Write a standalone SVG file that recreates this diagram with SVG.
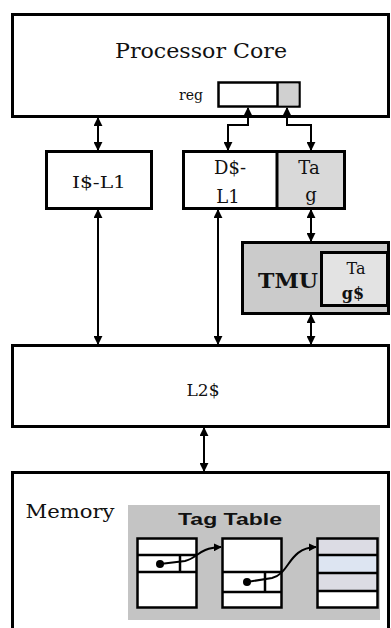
<svg xmlns="http://www.w3.org/2000/svg" width="391" height="628" viewBox="0 0 391 628">
<style>
.box{fill:#fff;stroke:#000;stroke-width:3}
.con{fill:none;stroke:#000;stroke-width:2;marker-start:url(#ah);marker-end:url(#ah)}
.srf{font-family:"DejaVu Serif","Liberation Serif",serif;fill:#111}
.row{fill:none;stroke:#000;stroke-width:2.5}
</style>
<defs>
<marker id="ah" markerUnits="userSpaceOnUse" markerWidth="9" markerHeight="9" viewBox="0 0 10 10" refX="9" refY="5" orient="auto-start-reverse">
<path d="M0,0 L10,5 L0,10 z" fill="#000"/>
</marker>
<marker id="ah2" markerUnits="userSpaceOnUse" markerWidth="8" markerHeight="8" viewBox="0 0 10 10" refX="9" refY="5" orient="auto">
<path d="M0,0 L10,5 L0,10 z" fill="#000"/>
</marker>
</defs>
<rect width="391" height="628" fill="#fff"/>

<g id="processor-core">
<rect class="box" x="12.5" y="14.5" width="376" height="102"/>
<text class="srf" x="201" y="58" font-size="20" text-anchor="middle" textLength="172" lengthAdjust="spacingAndGlyphs">Processor Core</text>
<text class="srf" x="191" y="100" font-size="14" text-anchor="middle" fill="#333">reg</text>
<rect x="218.5" y="82.5" width="81" height="24" fill="#fff" stroke="#000" stroke-width="2.5"/>
<rect x="277.5" y="83.5" width="21" height="22" fill="#d0d0d0"/>
<line x1="277.5" y1="82.5" x2="277.5" y2="106.5" stroke="#000" stroke-width="2.5"/>
</g>

<g id="i-l1">
<rect class="box" x="46.5" y="151.5" width="105" height="57"/>
<text class="srf" x="99" y="188" font-size="17" text-anchor="middle" textLength="54" lengthAdjust="spacingAndGlyphs">I$-L1</text>
</g>

<g id="d-l1">
<rect class="box" x="183.5" y="151.5" width="161" height="57"/>
<rect x="278" y="153" width="65" height="54" fill="#d9d9d9"/>
<line x1="277" y1="151.5" x2="277" y2="208.5" stroke="#000" stroke-width="3"/>
<text class="srf" x="230" y="174" font-size="18" text-anchor="middle">D$-</text>
<text class="srf" x="228" y="203" font-size="18" text-anchor="middle">L1</text>
<text class="srf" x="309" y="174" font-size="18" text-anchor="middle">Ta</text>
<text class="srf" x="311" y="201" font-size="18" text-anchor="middle">g</text>
</g>

<g id="tmu">
<rect x="242.5" y="242.5" width="146" height="71" fill="#cbcbcb" stroke="#000" stroke-width="3"/>
<text class="srf" x="288" y="288" font-size="21" font-weight="bold" text-anchor="middle" textLength="60" lengthAdjust="spacingAndGlyphs">TMU</text>
<rect x="321.5" y="252.5" width="66" height="53" fill="#e3e3e3" stroke="#000" stroke-width="3"/>
<text class="srf" x="356" y="274" font-size="16" text-anchor="middle">Ta</text>
<text class="srf" x="353" y="299" font-size="16" font-weight="bold" text-anchor="middle">g$</text>
</g>

<g id="l2">
<rect class="box" x="12.5" y="345.5" width="376" height="81"/>
<text class="srf" x="203" y="396" font-size="16" text-anchor="middle" textLength="33" lengthAdjust="spacingAndGlyphs">L2$</text>
</g>

<g id="memory">
<rect class="box" x="12.5" y="472.5" width="376" height="170"/>
<text class="srf" x="70" y="518" font-size="18" text-anchor="middle" fill="#444" textLength="89" lengthAdjust="spacingAndGlyphs">Memory</text>
<g id="tag-table">
<rect x="128" y="505" width="252" height="115" fill="#c4c4c4"/>
<text x="230" y="525" font-family="Liberation Sans, Arial, sans-serif" font-size="17" font-weight="bold" text-anchor="middle" fill="#111" textLength="104" lengthAdjust="spacingAndGlyphs">Tag Table</text>
<g id="tbl1">
<rect x="137.5" y="538.5" width="59" height="69" class="row" style="fill:#fff"/>
<line class="row" x1="137.5" y1="555" x2="196.5" y2="555"/>
<line class="row" x1="137.5" y1="572" x2="196.5" y2="572"/>
<line class="row" x1="180" y1="555" x2="180" y2="572"/>
<circle cx="160" cy="564" r="4" fill="#000"/>
</g>
<g id="tbl2">
<rect x="222.5" y="538.5" width="59" height="69" class="row" style="fill:#fff"/>
<line class="row" x1="222.5" y1="572" x2="281.5" y2="572"/>
<line class="row" x1="222.5" y1="592" x2="281.5" y2="592"/>
<line class="row" x1="265" y1="572" x2="265" y2="592"/>
<circle cx="247" cy="582" r="4" fill="#000"/>
</g>
<g id="tbl3">
<rect x="317.5" y="538.5" width="60" height="69" fill="#fff"/>
<rect x="318" y="539" width="59" height="16" fill="#dcdce4"/>
<rect x="318" y="555" width="59" height="18" fill="#dde5f2"/>
<rect x="318" y="573" width="59" height="18" fill="#dcdce4"/>
<rect x="317.5" y="538.5" width="60" height="69" class="row"/>
<line class="row" x1="317.5" y1="555" x2="377.5" y2="555"/>
<line class="row" x1="317.5" y1="573" x2="377.5" y2="573"/>
<line class="row" x1="317.5" y1="591" x2="377.5" y2="591"/>
</g>
</g>
</g>

<g id="connectors">
<line class="con" x1="98" y1="118" x2="98" y2="150"/>
<path class="con" d="M248,108 V125 H228 V150"/>
<path class="con" d="M287,108 V125 H311 V150"/>
<line class="con" x1="98" y1="210" x2="98" y2="344"/>
<line class="con" x1="218" y1="210" x2="218" y2="344"/>
<line class="con" x1="311" y1="210" x2="311" y2="241"/>
<line class="con" x1="311" y1="315" x2="311" y2="344"/>
<line class="con" x1="204" y1="428" x2="204" y2="471"/>
<path d="M160,564 L185,561 C198,558 198,548 221,547" fill="none" stroke="#000" stroke-width="2" marker-end="url(#ah2)"/>
<path d="M247,582 L272,578 C290,574 288,548 316,547" fill="none" stroke="#000" stroke-width="2" marker-end="url(#ah2)"/>
</g>
</svg>
